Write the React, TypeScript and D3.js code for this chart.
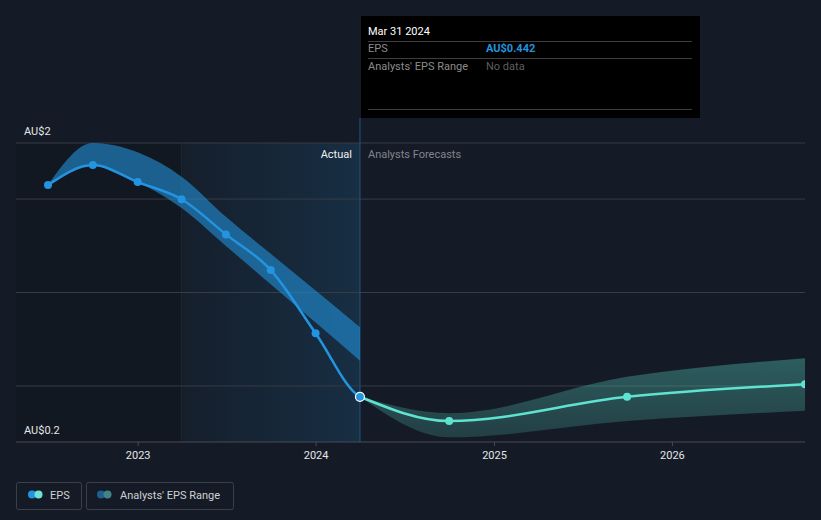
import React from "react";
import * as d3 from "d3";

// ---- data ----
const pastDates = ["2022-06-30", "2022-09-30", "2022-12-31", "2023-03-31", "2023-06-30", "2023-09-30", "2023-12-31", "2024-03-31"];
const pastEps = [1.575, 1.682, 1.591, 1.499, 1.311, 1.12, 0.782, 0.442];
const pastLow = [1.575, 1.682, 1.591, 1.452, 1.249, 1.044, 0.839, 0.635];
const pastHigh = [1.575, 1.8, 1.75, 1.62, 1.405, 1.207, 1.011, 0.814];

const fcDates = ["2024-03-31", "2024-09-30", "2025-09-30", "2026-09-30"];
const fcEps = [0.442, 0.312, 0.442, 0.509];
const fcLow = [0.442, 0.225, 0.312, 0.367];
const fcHigh = [0.442, 0.354, 0.549, 0.648];

const yTickValues = [1.8, 0.2];
const yTickLabels = ["AU$2", "AU$0.2"];
const gridValues = [1.8, 1.5, 1.0, 0.5];
const xTickLabels = ["2023", "2024", "2025", "2026"];

const highlightStart = "2023-03-31";
const nowDate = "2024-03-31";

const W = 821;
const H = 520;
const FONT = "Roboto, 'Noto Sans', sans-serif";

const parse = d3.timeParse("%Y-%m-%d");

export default function App() {
  const plotLeft = 16;
  const plotRight = 805;
  const plotTop = 143;
  const plotBottom = 442;

  const x = d3
    .scaleTime()
    .domain([parse(pastDates[0])!, parse(fcDates[fcDates.length - 1])!])
    .range([48, 805]);
  const y = d3.scaleLinear().domain([0.2, 1.8]).range([plotBottom, plotTop]);

  const past = pastDates.map((d, i) => ({ d: parse(d)!, v: pastEps[i], lo: pastLow[i], hi: pastHigh[i] }));
  const fc = fcDates.map((d, i) => ({ d: parse(d)!, v: fcEps[i], lo: fcLow[i], hi: fcHigh[i] }));
  const pastExt = past.concat(fc.slice(1, 2));

  const line = d3
    .line<any>()
    .x((p) => x(p.d))
    .y((p) => y(p.v))
    .curve(d3.curveMonotoneX);
  const area = d3
    .area<any>()
    .x((p) => x(p.d))
    .y0((p) => y(p.lo))
    .y1((p) => y(p.hi))
    .curve(d3.curveMonotoneX);

  const xHl = x(parse(highlightStart)!);
  const xNow = x(parse(nowDate)!);
  const years = xTickLabels.map((t) => ({ t, x: x(new Date(+t, 0, 1)) }));

  const blue = "#2394df";
  const teal = "#5fe3d1";

  return (
    <svg
      width={W}
      height={H}
      style={{ position: "absolute", left: 0, top: 0, background: "#151b26", fontFamily: FONT }}
    >
      <defs>
        <linearGradient id="hl" x1="0" x2="1" y1="0" y2="0">
          <stop offset="0" stopColor="#2394df" stopOpacity={0.03} />
          <stop offset="1" stopColor="#2394df" stopOpacity={0.16} />
        </linearGradient>
        <linearGradient id="fcband" x1="0" x2="0" y1="0" y2="1">
          <stop offset="0" stopColor="#5fe3d1" stopOpacity={0.33} />
          <stop offset="1" stopColor="#5fe3d1" stopOpacity={0.18} />
        </linearGradient>
        <clipPath id="plotclip">
          <rect x={plotLeft} y={100} width={plotRight - plotLeft} height={plotBottom - 100} />
        </clipPath>
        <clipPath id="pastclip">
          <rect x={plotLeft} y={100} width={xNow - plotLeft} height={plotBottom - 100} />
        </clipPath>
      </defs>
      <rect x={0} y={0} width={W} height={H} fill="#151b26" />

      {/* past darker region */}
      <rect x={plotLeft} y={plotTop} width={xHl - plotLeft} height={plotBottom - plotTop} fill="#000" opacity={0.1} />
      {/* highlighted last-year region */}
      <rect x={xHl} y={plotTop} width={xNow - xHl} height={plotBottom - plotTop} fill="url(#hl)" />
      <line x1={xHl} x2={xHl} y1={plotTop} y2={plotBottom} stroke="#1c2633" strokeWidth={1} />

      {/* grid */}
      {gridValues.map((g) => (
        <line key={g} x1={plotLeft} x2={plotRight} y1={y(g)} y2={y(g)} stroke="#373c45" strokeWidth={1} />
      ))}
      <line x1={plotLeft} x2={plotRight} y1={plotBottom} y2={plotBottom} stroke="#464b54" strokeWidth={1} />
      {years.map((yr) => (
        <line key={yr.t} x1={yr.x} x2={yr.x} y1={plotBottom} y2={plotBottom + 4} stroke="#464b54" strokeWidth={1} />
      ))}

      {/* now line */}
      <line x1={xNow} x2={xNow} y1={118} y2={plotBottom} stroke="#1f5783" strokeWidth={1} />

      <g clipPath="url(#plotclip)">
        <path d={area(past) || ""} fill="#2394df" opacity={0.58} />
        <path d={area(fc) || ""} fill="url(#fcband)" />
        <path d={line(pastExt) || ""} fill="none" stroke={blue} strokeWidth={2.5} clipPath="url(#pastclip)" />
        <path d={line(fc) || ""} fill="none" stroke={teal} strokeWidth={2.5} />
        {past.slice(0, -1).map((p, i) => (
          <circle key={i} cx={x(p.d)} cy={y(p.v)} r={4} fill={blue} />
        ))}
        {fc.slice(1).map((p, i) => (
          <circle key={i} cx={x(p.d)} cy={y(p.v)} r={4} fill={teal} />
        ))}
        <circle cx={x(past[past.length - 1].d)} cy={y(past[past.length - 1].v)} r={4.5} fill={blue} stroke="#ffffff" strokeWidth={1.2} />
      </g>

      {/* y labels */}
      {yTickValues.map((v, i) => (
        <text key={v} x={24} y={y(v) - 8} fill="#e6e6e6" fontSize={11}>
          {yTickLabels[i]}
        </text>
      ))}

      {/* x labels */}
      {years.map((yr) => (
        <text key={yr.t} x={yr.x} y={459} fill="#e6e6e6" fontSize={11} textAnchor="middle">
          {yr.t}
        </text>
      ))}

      <text x={xNow - 8} y={158} fill="#f0f0f0" fontSize={11} textAnchor="end">
        Actual
      </text>
      <text x={xNow + 8} y={158} fill="#80858d" fontSize={11}>
        Analysts Forecasts
      </text>

      {/* tooltip */}
      <rect x={361} y={16} width={339} height={102} fill="#000000" />
      <text x={368} y={35} fill="#ffffff" fontSize={11}>
        Mar 31 2024
      </text>
      <line x1={368} x2={692} y1={41.5} y2={41.5} stroke="#3e3e3e" strokeWidth={1} />
      <text x={368} y={52} fill="#8c8c8c" fontSize={11}>
        EPS
      </text>
      <text x={486} y={52} fill={blue} fontSize={11} fontWeight="bold">
        AU$0.442
      </text>
      <line x1={368} x2={692} y1={58.5} y2={58.5} stroke="#3e3e3e" strokeWidth={1} />
      <text x={368} y={69.5} fill="#8c8c8c" fontSize={11}>
        Analysts' EPS Range
      </text>
      <text x={486} y={69.5} fill="#5e5e5e" fontSize={11}>
        No data
      </text>
      <line x1={368} x2={692} y1={109.5} y2={109.5} stroke="#3e3e3e" strokeWidth={1} />

      {/* legend */}
      <rect x={16.5} y={482.5} width={65} height={27} rx={2} fill="none" stroke="#3b4048" />
      <circle cx={32} cy={494.5} r={4} fill={blue} />
      <circle cx={38.5} cy={494.5} r={4} fill="#6fe3d3" />
      <text x={50} y={498.5} fill="#cfd1d4" fontSize={11}>
        EPS
      </text>
      <rect x={86.5} y={482.5} width={147} height={27} rx={2} fill="none" stroke="#3b4048" />
      <circle cx={101} cy={494.5} r={4} fill="#1e5f8e" />
      <circle cx={107.5} cy={494.5} r={4} fill="#3e8583" />
      <text x={120} y={498.5} fill="#cfd1d4" fontSize={11}>
        Analysts' EPS Range
      </text>
    </svg>
  );
}
